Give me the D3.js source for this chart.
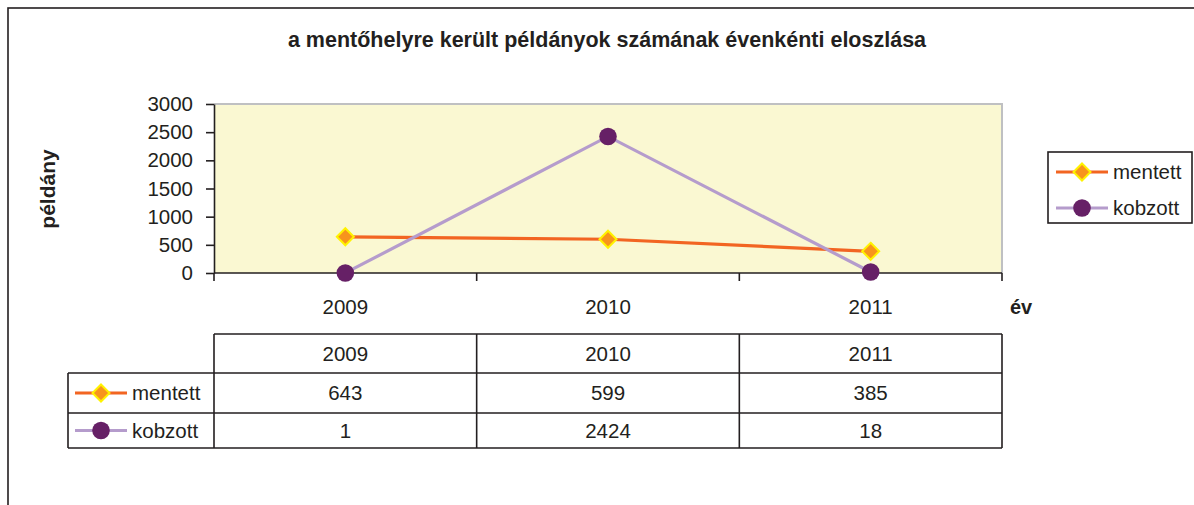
<!DOCTYPE html>
<html>
<head>
<meta charset="utf-8">
<script src="https://cdn.jsdelivr.net/npm/d3@7"></script>
<style>
  body { margin: 0; background: #fff; }
  svg { display: block; font-family: "Liberation Sans", Arial, sans-serif; }
</style>
</head>
<body>
<svg id="chart" width="1194" height="505"></svg>
<script>
// adatok
const years = ['2009', '2010', '2011'];
const mentett = [643, 599, 385];
const kobzott = [1, 2424, 18];
const yTicks = [0, 500, 1000, 1500, 2000, 2500, 3000];
const seriesNames = ['mentett', 'kobzott'];

const titleText = 'a mentőhelyre került példányok számának évenkénti eloszlása';
const ink = '#231f20';
const fs = 20.5;

const series = [
  { name: seriesNames[0], values: mentett, line: '#f26522', kind: 'diamond' },
  { name: seriesNames[1], values: kobzott, line: '#b59ccc', kind: 'circle' }
];

const svg = d3.select('#chart');

// külső keret
svg.append('rect')
  .attr('x', 8).attr('y', 8)
  .attr('width', 1200).attr('height', 520)
  .attr('fill', 'none').attr('stroke', ink).attr('stroke-width', 1.6);

svg.append('text')
  .attr('x', 607).attr('y', 47)
  .attr('text-anchor', 'middle')
  .attr('font-size', 21.5).attr('font-weight', 'bold')
  .attr('fill', ink)
  .text(titleText);

const plot = { left: 214, right: 1002, top: 104, bottom: 273 };

const x = d3.scaleBand().domain(years).range([plot.left, plot.right]);
const y = d3.scaleLinear().domain([0, 3000]).range([plot.bottom, plot.top]);

// rajzterület háttere
svg.append('rect')
  .attr('x', plot.left).attr('y', plot.top)
  .attr('width', plot.right - plot.left).attr('height', plot.bottom - plot.top)
  .attr('fill', '#faf8d2');
svg.append('path')
  .attr('d', `M${plot.left},${plot.top}H${plot.right}V${plot.bottom}`)
  .attr('fill', 'none').attr('stroke', '#bfc0c2').attr('stroke-width', 2);

// y tengely
const yAxis = svg.append('g')
  .attr('transform', `translate(${plot.left},0)`)
  .call(d3.axisLeft(y).tickValues(yTicks).tickFormat(d3.format('d'))
    .tickSize(8).tickPadding(13).tickSizeOuter(0));
yAxis.select('.domain').attr('stroke', ink).attr('stroke-width', 1.6);
yAxis.selectAll('.tick line').attr('stroke', ink).attr('stroke-width', 1.6);
yAxis.selectAll('.tick text')
  .attr('font-size', fs).attr('fill', ink)
  .attr('font-family', '"Liberation Sans", Arial, sans-serif');

// x tengely (kategóriahatárokon jelölők)
const xAxis = svg.append('g')
  .attr('transform', `translate(0,${plot.bottom})`);
xAxis.append('line')
  .attr('x1', plot.left).attr('x2', plot.right)
  .attr('stroke', ink).attr('stroke-width', 1.6);
const edges = years.map(d => x(d)).concat([x(years[years.length - 1]) + x.bandwidth()]);
xAxis.selectAll('line.tk').data(edges).join('line')
  .attr('class', 'tk')
  .attr('x1', d => d).attr('x2', d => d)
  .attr('y1', 0).attr('y2', 8)
  .attr('stroke', ink).attr('stroke-width', 1.6);
xAxis.selectAll('text').data(years).join('text')
  .attr('x', d => x(d) + x.bandwidth() / 2)
  .attr('y', 41)
  .attr('text-anchor', 'middle')
  .attr('font-size', fs).attr('fill', ink)
  .text(d => d);

svg.append('text')
  .attr('x', 1010).attr('y', 314)
  .attr('font-size', 20).attr('font-weight', 'bold').attr('fill', ink)
  .text('év');

svg.append('text')
  .attr('transform', 'translate(55,189) rotate(-90)')
  .attr('text-anchor', 'middle')
  .attr('font-size', 21).attr('font-weight', 'bold').attr('fill', ink)
  .text('példány');

const drawMarker = (g, s, cx, cy) => {
  if (s.kind === 'diamond') {
    g.append('path')
      .attr('d', `M${cx},${cy - 8.5}L${cx + 8.5},${cy}L${cx},${cy + 8.5}L${cx - 8.5},${cy}Z`)
      .attr('fill', '#f7941d').attr('stroke', '#fff200').attr('stroke-width', 2);
  } else {
    g.append('circle')
      .attr('cx', cx).attr('cy', cy).attr('r', 8.8)
      .attr('fill', '#662066');
  }
};

const cx = d => x(d) + x.bandwidth() / 2;
const line = d3.line().x((v, i) => cx(years[i])).y(v => y(v));

series.forEach(s => {
  const g = svg.append('g');
  g.append('path')
    .attr('d', line(s.values))
    .attr('fill', 'none').attr('stroke', s.line).attr('stroke-width', 3.2);
  s.values.forEach((v, i) => drawMarker(g, s, cx(years[i]), y(v)));
});

// jelmagyarázat
const legendKey = (g, s, x0, yy) => {
  g.append('line')
    .attr('x1', x0).attr('x2', x0 + 52)
    .attr('y1', yy).attr('y2', yy)
    .attr('stroke', s.line).attr('stroke-width', 3.2);
  drawMarker(g, s, x0 + 26, yy);
  g.append('text')
    .attr('x', x0 + 57).attr('y', yy + 7)
    .attr('font-size', fs).attr('fill', ink)
    .text(s.name);
};

const legend = svg.append('g');
legend.append('rect')
  .attr('x', 1048).attr('y', 152).attr('width', 144).attr('height', 71)
  .attr('fill', '#fff').attr('stroke', ink).attr('stroke-width', 1.6);
series.forEach((s, i) => legendKey(legend, s, 1056, 172 + i * 36));

// adattábla
const table = svg.append('g');
const rowTop = [334, 373, 413, 448];
const tLeft = 68;
table.append('path')
  .attr('d', [
    `M${plot.left},${rowTop[0]}H${plot.right}`,
    `M${tLeft},${rowTop[1]}H${plot.right}`,
    `M${tLeft},${rowTop[2]}H${plot.right}`,
    `M${tLeft},${rowTop[3]}H${plot.right}`,
    `M${tLeft},${rowTop[1]}V${rowTop[3]}`
  ].concat(edges.map(e => `M${e},${rowTop[0]}V${rowTop[3]}`)).join(''))
  .attr('fill', 'none').attr('stroke', ink).attr('stroke-width', 1.6);

table.selectAll('text.hdr').data(years).join('text')
  .attr('class', 'hdr')
  .attr('x', d => cx(d)).attr('y', (rowTop[0] + rowTop[1]) / 2 + 7)
  .attr('text-anchor', 'middle').attr('font-size', fs).attr('fill', ink)
  .text(d => d);

series.forEach((s, r) => {
  const mid = (rowTop[r + 1] + rowTop[r + 2]) / 2;
  legendKey(table, s, 75, mid);
  s.values.forEach((v, i) => {
    table.append('text')
      .attr('x', cx(years[i])).attr('y', mid + 7)
      .attr('text-anchor', 'middle').attr('font-size', fs).attr('fill', ink)
      .text(v);
  });
});
</script>
</body>
</html>
